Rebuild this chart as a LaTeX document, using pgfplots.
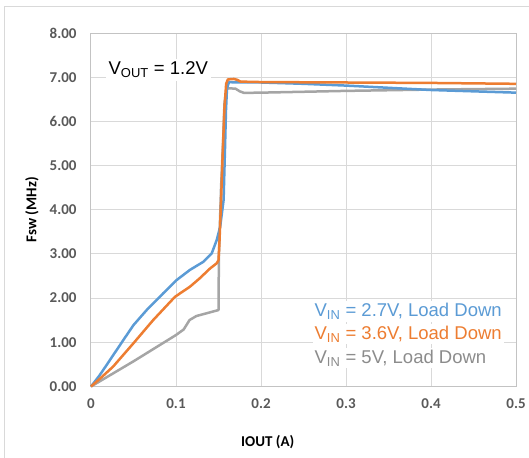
\documentclass[border=0pt]{standalone}
\usepackage{pgfplots}
\pgfplotsset{compat=1.18}
\usepackage{fontspec}
\setmainfont{Carlito}
\newfontfamily\arial{Liberation Sans}
\definecolor{sblue}{HTML}{5B9BD5}
\definecolor{sorange}{HTML}{ED7D31}
\definecolor{sgray}{HTML}{A5A5A5}
\definecolor{tgray}{HTML}{8C8C8C}
\definecolor{gridc}{HTML}{D9D9D9}
\definecolor{tickc}{HTML}{595959}
\begin{document}
\begin{tikzpicture}
\path[use as bounding box] (-91pt,-70.5pt) rectangle (438pt,386.5pt);
\draw[gridc, line width=1pt] (-86pt,-80pt) -- (-86pt,379.5pt) -- (450pt,379.5pt);
\begin{axis}[
    scale only axis,
    width=425pt, height=353.5pt,
    xmin=0, xmax=0.5, ymin=0, ymax=8,
    xtick={0,0.1,0.2,0.3,0.4,0.5},
    xticklabels={0,0.1,0.2,0.3,0.4,0.5},
    ytick={0,1,2,3,4,5,6,7,8},
    yticklabels={0.00,1.00,2.00,3.00,4.00,5.00,6.00,7.00,8.00},
    major tick length=0pt,
    grid=major,
    grid style={gridc, line width=1pt},
    axis line style={gridc!90!black, line width=1pt},
    ticklabel style={font=\fontsize{15}{18}\selectfont\bfseries, text=tickc},
    xticklabel style={yshift=-9pt},
    yticklabel style={xshift=-11pt},
    xlabel={IOUT (A)},
    ylabel={Fsw (MHz)},
    label style={font=\fontsize{15}{18}\selectfont\bfseries},
    xlabel style={at={(axis description cs:0.416,-0.157)}, anchor=center},
    ylabel style={at={(axis description cs:-0.139,0.5)}, anchor=center, rotate=0},
    every axis plot/.append style={line width=2.5pt, line join=round},
    clip=false,
]
\node[anchor=base west, fill=white, inner sep=3pt, font=\arial\fontsize{18.5}{22}\selectfont]
    at (axis cs:0.017,7.056) {V\textsubscript{OUT} = 1.2V};

% VIN = 5V
\addplot[sgray] coordinates {
    (0,0) (0.05,0.57) (0.1,1.165) (0.109,1.29) (0.116,1.505) (0.124,1.595)
    (0.150,1.73) (0.1505,3.0) (0.153,4.5) (0.1555,5.6) (0.157,6.4)
    (0.159,6.70) (0.161,6.75) (0.170,6.74) (0.175,6.68) (0.180,6.645)
    (0.2,6.65) (0.3,6.69) (0.4,6.72) (0.5,6.74)
};
% VIN = 2.7V
\addplot[sblue] coordinates {
    (0,0) (0.01,0.25) (0.0185,0.49) (0.038,1.05) (0.050,1.39) (0.0655,1.73)
    (0.085,2.11) (0.1008,2.41) (0.1165,2.64) (0.132,2.82) (0.142,3.01)
    (0.148,3.32) (0.152,3.62) (0.156,4.22) (0.1576,5.35) (0.1588,6.25)
    (0.160,6.75) (0.1624,6.89) (0.169,6.88) (0.2,6.88) (0.25,6.85)
    (0.3,6.81) (0.35,6.76) (0.4,6.71) (0.45,6.68) (0.5,6.65)
};
% VIN = 3.6V
\addplot[sorange] coordinates {
    (0,0) (0.013,0.22) (0.026,0.45) (0.050,0.98) (0.073,1.50) (0.0988,2.03)
    (0.1165,2.26) (0.128,2.45) (0.140,2.67) (0.148,2.79) (0.150,2.86)
    (0.151,3.2) (0.153,4.2) (0.155,5.3) (0.157,6.3) (0.159,6.85)
    (0.161,6.95) (0.168,6.96) (0.172,6.94) (0.176,6.90) (0.2,6.89)
    (0.3,6.88) (0.4,6.87) (0.5,6.85)
};

\node[anchor=base west, fill=white, inner sep=2pt, font=\arial\fontsize{18.5}{22}\selectfont, text=sblue]
    at (axis cs:0.2605,1.58) {V\textsubscript{IN} = 2.7V, Load Down};
\node[anchor=base west, fill=white, inner sep=2pt, font=\arial\fontsize{18.5}{22}\selectfont, text=sorange]
    at (axis cs:0.2605,1.068) {V\textsubscript{IN} = 3.6V, Load Down};
\node[anchor=base west, fill=white, inner sep=2pt, font=\arial\fontsize{18.5}{22}\selectfont, text=tgray]
    at (axis cs:0.2605,0.525) {V\textsubscript{IN} = 5V, Load Down};
\end{axis}
\end{tikzpicture}
\end{document}
